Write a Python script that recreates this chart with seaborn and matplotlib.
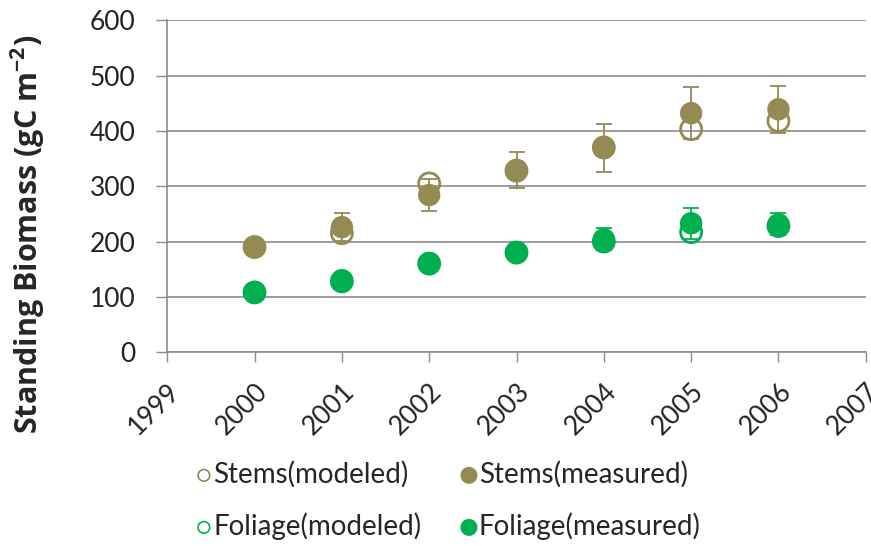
import numpy as np
import pandas as pd
import matplotlib
matplotlib.use("Agg")
import matplotlib.pyplot as plt
import seaborn as sns

years = [2000, 2001, 2002, 2003, 2004, 2005, 2006]
stems_modeled = [190, 215, 305, 328, 370, 403, 418]
stems_measured = [190, 226, 284, 329, 369, 432, 439]
stems_err = [0, 25, 29, 33, 44, 47, 42]
foliage_modeled = [108, 128, 160, 180, 200, 217, 228]
foliage_measured = [108, 130, 161, 181, 204, 233, 231]
foliage_err = [0, 0, 0, 0, 20, 28, 20]

stem_col = "#948a54"
fol_col = "#00b050"

df = pd.DataFrame({
    "year": years,
    "stems_mod": stems_modeled, "stems_meas": stems_measured, "stems_err": stems_err,
    "fol_mod": foliage_modeled, "fol_meas": foliage_measured, "fol_err": foliage_err,
})

sns.set_style("white")
plt.rcParams['font.family'] = ['Lato', 'DejaVu Sans']

fig = plt.figure(figsize=(8.71, 5.46), dpi=100)
ax = fig.add_axes([0.192, 0.355, 0.802, 0.608])

# error bars on measured values
ax.errorbar(df.year, df.stems_meas, yerr=df.stems_err, fmt="none", ecolor=stem_col,
            elinewidth=1.3, capsize=6, capthick=1.3, zorder=2)
ax.errorbar(df.year, df.fol_meas, yerr=df.fol_err, fmt="none", ecolor=fol_col,
            elinewidth=1.3, capsize=6, capthick=1.3, zorder=2)

sns.scatterplot(data=df, x="year", y="stems_mod", ax=ax, s=230, marker="o",
                facecolor="none", edgecolor=stem_col, linewidth=2,
                label="Stems(modeled)", zorder=3)
sns.scatterplot(data=df, x="year", y="fol_mod", ax=ax, s=230, marker="o",
                facecolor="none", edgecolor=fol_col, linewidth=2,
                label="Foliage(modeled)", zorder=3)
sns.scatterplot(data=df, x="year", y="stems_meas", ax=ax, s=260, color=stem_col,
                edgecolor="none", label="Stems(measured)", zorder=4)
sns.scatterplot(data=df, x="year", y="fol_meas", ax=ax, s=260, color=fol_col,
                edgecolor="none", label="Foliage(measured)", zorder=4)

ax.set_xlim(1999, 2007)
ax.set_ylim(0, 600)
ax.set_xticks(range(1999, 2008))
ax.set_yticks(range(0, 601, 100))
ax.set_xticklabels([str(y) for y in range(1999, 2008)], rotation=45, ha="right",
                   rotation_mode="anchor")
ax.tick_params(axis="both", labelsize=19, labelcolor="#222222", width=1,
               direction="out", bottom=True, left=True, color="#8c8c8c")
ax.tick_params(axis="y", length=8, pad=15)
ax.tick_params(axis="x", length=7, pad=12)
ax.grid(axis="y", color="#8c8c8c", linewidth=1.2)
ax.set_axisbelow(True)
for s in ["top", "right"]:
    ax.spines[s].set_visible(False)
for s in ["left", "bottom"]:
    ax.spines[s].set_color("#8c8c8c")
    ax.spines[s].set_linewidth(1.2)

ax.set_xlabel("")
ax.set_ylabel("Standing Biomass (gC m$^{\\mathregular{-2}}$)", fontsize=22,
              fontweight="bold", family=["Open Sans", "DejaVu Sans"])
ax.yaxis.set_label_coords(-0.172, 0.355)

handles, labels = ax.get_legend_handles_labels()
leg = ax.legend(handles, labels, ncol=2, loc="center", bbox_to_anchor=(0.40, -0.446),
                frameon=False, fontsize=20, handlelength=0.8, handletextpad=-0.05,
                columnspacing=1.3, labelspacing=0.88)
for h, sz, lw in zip(leg.legend_handles, [70, 70, 150, 150], [1.2, 1.2, 0, 0]):
    h.set_sizes([sz])
    h.set_linewidth(lw)

fig.savefig("out.png", dpi=100)
